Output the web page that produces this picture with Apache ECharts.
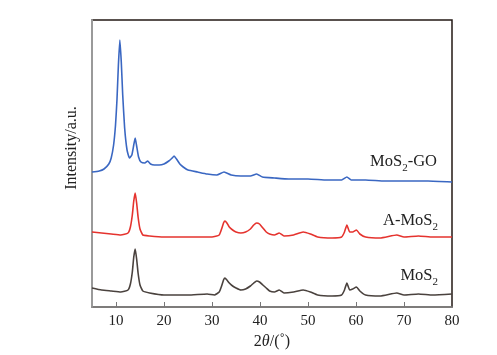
<!DOCTYPE html>
<html><head><meta charset="utf-8">
<script src="https://cdn.jsdelivr.net/npm/echarts@6/dist/echarts.min.js"></script>
<style>html,body{margin:0;padding:0;background:#fff}#c{width:497px;height:355px}</style>
</head><body><div id="c"></div>
<script>
// 2θ tick labels
const xTicks = [10, 20, 30, 40, 50, 60, 70, 80];
// MoS2-GO (blue)
const goX = [5,6.5,7.5,8.5,9.0,9.5,9.9,10.2,10.5,10.8,11.1,11.4,11.8,12.3,12.8,13.3,13.7,14.0,14.3,14.7,15.2,16,16.6,17.2,18,19,20,21,21.7,22.1,22.6,23.3,24,25,27,29,31,32.5,34,36,38,39.3,40.5,43,46,50,54,57,58.1,59,62,66,70,75,80];
const goY = [135,136,138,143,149,162,182,207,242,267,245,212,179,157,149,152,162,169,161,150,145,144,146,143,142,142,143,146,149,151,148,143,140,137,135,133,132,135,132,131,131,133,130,129,128,128,127,127,130,127,127,126,126,126,125];
// A-MoS2 (red)
const aX = [5,7,9,11,12.5,13.0,13.4,13.7,14.0,14.3,14.6,15.0,15.6,17,20,25,28,30,31.5,32.0,32.4,32.7,33.1,33.6,34.3,35,36,37,38,38.7,39.3,39.9,40.6,41.3,42,43,44,45,47,49,50.5,52,55,57,57.6,58.1,58.7,59.3,60.1,60.8,62,65,68.5,70,73,76,80];
const aY = [75,74,73,72,74,80,92,106,114,104,90,78,72,71,70,70,70,70,72,78,84,86,84,80,77,75,74,75,78,82,84,83,79,75,73,72,74,71,72,75,73,70,69,70,75,82,75,75,77,73,70,69,72,70,71,70,70];
// MoS2 (dark)
const mX = [5,7,9,11,12.5,13.0,13.4,13.7,14.0,14.3,14.6,15.0,15.6,17,20,25,29,30.5,31.5,32.0,32.4,32.7,33.1,33.6,34.3,35,36,37,38,38.7,39.3,39.9,40.6,41.3,42,43,44,45,47,49,50.5,52,55,57,57.6,58.1,58.7,59.3,60.1,60.8,62,65,68.5,70,73,76,80];
const mY = [19,17,16,15,17,23,35,50,58,48,34,22,16,14,12,12,13,12,15,21,27,29,27,24,21,19,17,18,21,24,26,25,22,19,16,15,17,14,15,17,15,12,11,12,17,24,17,18,20,16,12,11,14,12,13,12,13];

const pair = (xs, ys) => xs.map((x, i) => [x, ys[i]]);
const serif = 'Liberation Serif, DejaVu Serif, serif';
const rich = {s: {fontFamily: serif, fontSize: 11, fill: '#222', padding: [13, 0, 0, 0]}};
const lab = (txt, right, top) => ({type: 'text', right: right, top: top,
  style: {text: txt, fontFamily: serif, fontSize: 16.5, fill: '#222', rich: rich}});

const chart = echarts.init(document.getElementById('c'));
chart.setOption({
  animation: false,
  backgroundColor: '#fff',
  grid: {left: 92, right: 45, top: 20, bottom: 48, show: true, borderColor: '#231815', borderWidth: 1.5, backgroundColor: 'transparent'},
  xAxis: {
    type: 'value', min: 5, max: 80,
    name: '2{i|θ}/(˚)', nameLocation: 'middle', nameGap: 22,
    nameTextStyle: {fontFamily: serif, fontSize: 16, color: '#222', rich: {i: {fontFamily: serif, fontStyle: 'italic', fontSize: 16, color: '#222'}}},
    axisLine: {show: true, lineStyle: {color: '#8a8a8a', width: 1.5}},
    axisTick: {show: true, inside: true, length: 5, customValues: xTicks.slice(0, -1), lineStyle: {color: '#777', width: 1}},
    axisLabel: {customValues: xTicks, fontFamily: serif, fontSize: 15, color: '#222', margin: 7},
    splitLine: {show: false}
  },
  yAxis: {
    type: 'value', min: 0, max: 287,
    axisLine: {show: true, lineStyle: {color: '#9a9a9a', width: 2}},
    axisTick: {show: false}, axisLabel: {show: false}, splitLine: {show: false}
  },
  series: [
    {type: 'line', data: pair(goX, goY), showSymbol: false, smooth: 0.15, lineStyle: {color: '#3a67c2', width: 1.6}},
    {type: 'line', data: pair(aX, aY), showSymbol: false, smooth: 0.15, lineStyle: {color: '#e5332e', width: 1.6}},
    {type: 'line', data: pair(mX, mY), showSymbol: false, smooth: 0.15, lineStyle: {color: '#4a423e', width: 1.6}}
  ],
  graphic: [
    {type: 'text', x: 72, y: 148, rotation: Math.PI / 2,
      style: {text: 'Intensity/a.u.', fontFamily: serif, fontSize: 16, fill: '#222', align: 'center', verticalAlign: 'middle'}},
    lab('MoS{s|2}-GO', 60, 153),
    lab('A-MoS{s|2}', 59, 212),
    lab('MoS{s|2}', 59, 267)
  ]
});
</script>
</body></html>
